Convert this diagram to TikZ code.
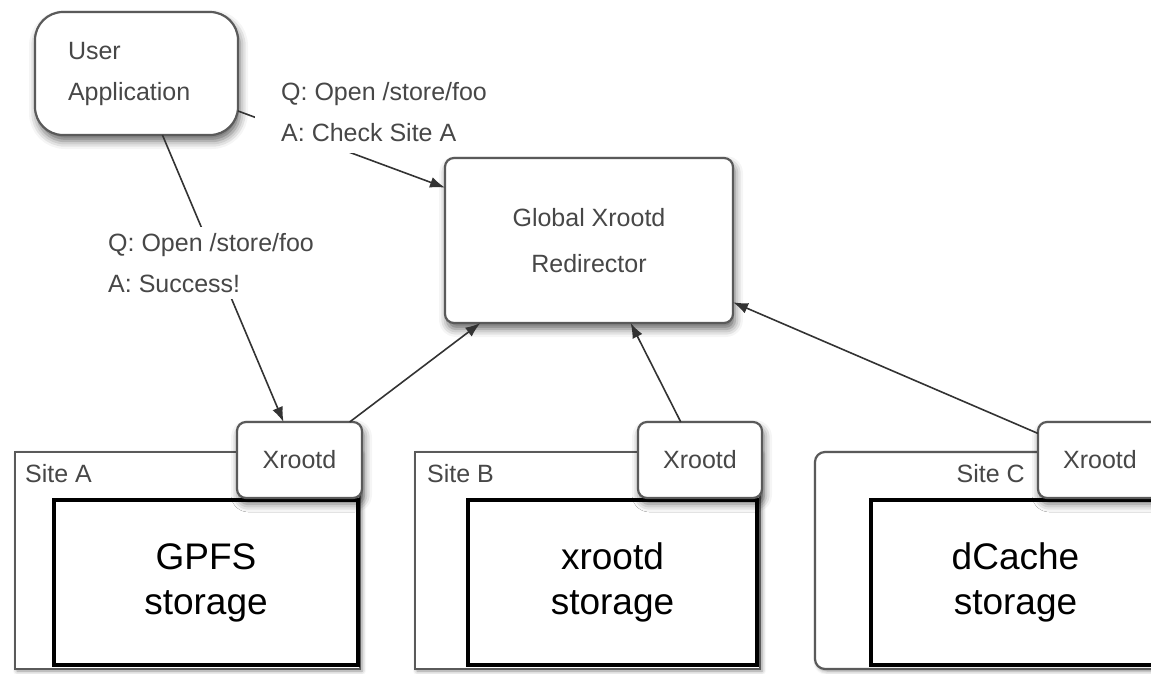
\documentclass[tikz,border=0pt]{standalone}
\usepackage{fontspec}
\setmainfont{Liberation Sans}
\usetikzlibrary{arrows.meta,shadows.blur}

\definecolor{boxgray}{HTML}{5A5A5A}
\definecolor{txtgray}{HTML}{474747}
\definecolor{arrowgray}{HTML}{333333}

\tikzset{
  softshadow/.style={blur shadow={shadow xshift=2pt, shadow yshift=-6pt,
      shadow blur radius=8pt, shadow opacity=60}},
  gbox/.style={draw=boxgray, line width=2.2pt, fill=white, rounded corners=9pt,
      anchor=north west, inner sep=0pt, outer sep=0pt, text=txtgray,
      align=center, font=\fontsize{25}{46}\selectfont, softshadow},
  sitebox/.style={draw=boxgray, line width=2.2pt, fill=white,
      anchor=north west, inner sep=0pt, outer sep=0pt,
      blur shadow={shadow xshift=2pt, shadow yshift=-2pt,
      shadow blur radius=4pt, shadow opacity=45}},
  sitelbl/.style={text=txtgray, inner sep=0pt, font=\fontsize{25}{30}\selectfont},
  storebox/.style={draw=black, line width=3.8pt, fill=white,
      anchor=north west, inner sep=0pt, outer sep=0pt,
      align=center, font=\fontsize{37}{45}\selectfont},
  msg/.style={fill=white, text=txtgray, align=left, anchor=west,
      inner xsep=4pt, inner ysep=6pt, font=\fontsize{25}{41}\selectfont},
  link/.style={draw=arrowgray, line width=1.6pt,
      -{Latex[length=15pt,width=11pt]}},
}

\begin{document}
\begin{tikzpicture}[x=1pt, y=-1pt]

    \useasboundingbox (0,0) rectangle (1151,673);
    \clip (0,0) rectangle (1151,673);

    % Sites
    \node[sitebox, minimum width=345pt, minimum height=217pt] (siteA) at (15,452) {};
    \node[sitebox, minimum width=345pt, minimum height=217pt] (siteB) at (415,452) {};
    \node[sitebox, rounded corners=10pt, minimum width=360pt, minimum height=217pt] (siteC) at (815,452) {};

    \node[sitelbl, anchor=west] (siteAlbl) at (25,474) {Site A};
    \node[sitelbl, anchor=west] (siteBlbl) at (427,474) {Site B};
    \node[sitelbl, anchor=east] (siteClbl) at (1025,474) {Site C};

    % Storage
    \node[storebox, minimum width=304pt, minimum height=165pt] (gpfs) at (54,500) {GPFS\\storage};
    \node[storebox, minimum width=289pt, minimum height=165pt] (xstore) at (468,500) {xrootd\\storage};
    \node[storebox, minimum width=289pt, minimum height=165pt] (dcache) at (871,500) {dCache\\storage};

    % Xrootd servers
    \node[gbox, minimum width=125pt, minimum height=76pt] (xrdA) at (237,422) {Xrootd};
    \node[gbox, minimum width=124pt, minimum height=76pt] (xrdB) at (638,422) {Xrootd};
    \node[gbox, minimum width=124pt, minimum height=76pt] (xrdC) at (1038,422) {Xrootd};

    % Redirector and user
    \node[gbox, minimum width=288pt, minimum height=165pt] (redir) at (445,158) {Global Xrootd\\Redirector};
    \node[gbox, rounded corners=28pt, align=left, text width=137pt, inner xsep=33pt,
          minimum height=123pt, font=\fontsize{25}{41}\selectfont] (user) at (35,12) {User\\Application};

    % Connectors
    \draw[link] (user) -- (redir);
    \draw[link] (user) -- (xrdA);
    \draw[link] (xrdA) -- (redir);
    \draw[link] (xrdB) -- (redir);
    \draw[link] (xrdC) -- (redir);

    % Messages
    \node[msg, inner xsep=26pt, inner ysep=11pt] (askredir) at (255,112) {Q: Open /store/foo\\A: Check Site A};
    \node[msg] (asksite) at (104,263) {Q: Open /store/foo\\A: Success!};

\end{tikzpicture}
\end{document}
